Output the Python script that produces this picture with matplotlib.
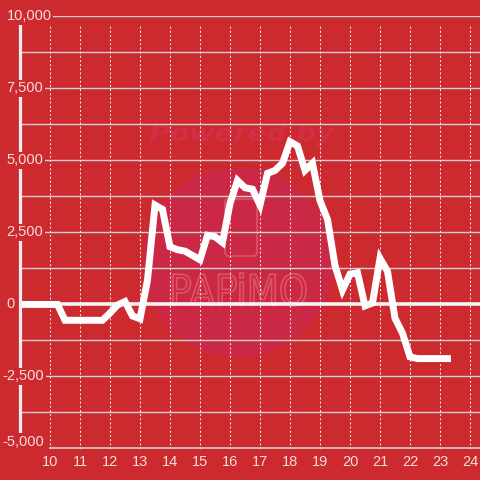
import matplotlib.pyplot as plt
from matplotlib.patches import Circle, FancyBboxPatch, PathPatch
from matplotlib.textpath import TextPath
from matplotlib.font_manager import FontProperties
from matplotlib.transforms import Affine2D, offset_copy

# ----------------------------
# Data
# ----------------------------
hours = [
    9.0, 9.25, 9.5, 9.75, 10.0, 10.25, 10.5, 10.75, 11.0, 11.25, 11.5, 11.75,
    12.0, 12.25, 12.5, 12.75, 13.0, 13.25, 13.5, 13.75, 14.0, 14.25, 14.5, 14.75,
    15.0, 15.25, 15.5, 15.75, 16.0, 16.25, 16.5, 16.75, 17.0, 17.25, 17.5, 17.75,
    18.0, 18.25, 18.5, 18.75, 19.0, 19.25, 19.5, 19.75, 20.0, 20.25, 20.5, 20.75,
    21.0, 21.25, 21.5, 21.75, 22.0, 22.25, 22.5, 22.75, 23.0, 23.25,
]
balance = [
    0, 0, 0, 0, 0, 0, -550, -550, -550, -550, -550, -550,
    -300, -20, 100, -400, -500, 850, 3450, 3300, 2000, 1900, 1850, 1700,
    1550, 2400, 2350, 2150, 3500, 4300, 4050, 4000, 3450, 4550, 4650, 4900,
    5650, 5500, 4650, 4900, 3600, 2950, 1350, 500, 1050, 1100, -50, 50,
    1600, 1150, -480, -1000, -1820, -1880, -1880, -1880, -1880, -1880,
]
x_ticks = [10, 11, 12, 13, 14, 15, 16, 17, 18, 19, 20, 21, 22, 23, 24]
y_ticks = [-5000, -2500, 0, 2500, 5000, 7500, 10000]
y_minor = [-3750, -1250, 1250, 3750, 6250, 8750]

# ----------------------------
# Style
# ----------------------------
BG = "#cc2a2f"
CIRCLE = "#cb2846"
GRID = "#d2d2d2"
TEXT = "#f6dcdc"
plt.rcParams["font.family"] = ["Liberation Sans", "DejaVu Sans"]

W = H = 480
fig = plt.figure(figsize=(4.8, 4.8), dpi=100, facecolor=BG)

# ----------------------------
# Watermark (pixel coords, behind the chart)
# ----------------------------
wm = fig.add_axes([0, 0, 1, 1], zorder=0)
wm.set_xlim(0, W)
wm.set_ylim(H, 0)
wm.axis("off")
wm.add_patch(Circle((238, 262), 95, facecolor=CIRCLE, edgecolor="none"))
wm.add_patch(FancyBboxPatch((225, 199), 32, 57, boxstyle="round,pad=0,rounding_size=4",
                            facecolor="none", edgecolor="#dc4a5c", lw=1.6))


def fitted_text(s, box, weight="normal", style="normal", fill=True, color="#d2304a"):
    fp = FontProperties(family="DejaVu Sans", weight=weight, style=style)
    tp = TextPath((0, 0), s, size=10, prop=fp)
    bb = tp.get_extents()
    x0, y0, x1, y1 = box
    tr = (Affine2D().translate(-bb.x0, -bb.y0)
          .scale((x1 - x0) / bb.width, -(y1 - y0) / bb.height)
          .translate(x0, y1))
    path = tr.transform_path(tp)
    if fill:
        wm.add_patch(PathPatch(path, facecolor=color, edgecolor="none"))
    else:
        wm.add_patch(PathPatch(path, facecolor="none", edgecolor=color, lw=1.2))


fitted_text("Powered by", (150, 123, 335, 146), weight="bold", style="italic", color="#d12f46")
fitted_text("PAPiMO", (173, 273, 306, 306), fill=False, color="#dc5562")

# ----------------------------
# Main chart
# ----------------------------
left, right = 20 / W, 1.0
bottom, top = (H - 448.5) / H, (H - 16.3) / H
ax = fig.add_axes([left, bottom, right - left, top - bottom], zorder=1)
ax.set_facecolor("none")
ax.set_xlim(9, 9 + 460 / 30)
ax.set_ylim(-5000, 10000)

for v in y_ticks[1:] + y_minor:
    if v == 0:
        ax.axhline(v, color="#f4f4f4", lw=2.6, zorder=1.5)
    else:
        ax.axhline(v, color=GRID, lw=1, zorder=1)
ax.axhline(-5000, xmin=30 / 460, color=GRID, lw=1.2, zorder=1)

for h in x_ticks:
    ax.axvline(h, ymax=(10000 - 250 + 5000) / 15000, color="#e6e6e6", lw=0.75,
               linestyle=(0, (2, 2)), zorder=1)

ax.plot(hours, balance, color="white", lw=5, zorder=2, solid_joinstyle="miter",
        solid_capstyle="projecting")

for s in ["top", "right", "bottom"]:
    ax.spines[s].set_visible(False)
ax.spines["left"].set_color("#efefef")
ax.spines["left"].set_linewidth(2.3)

ax.set_xticks(x_ticks)
ax.set_xticklabels([str(h) for h in x_ticks])
ax.tick_params(axis="x", length=0, pad=5, labelsize=10.5, labelcolor=TEXT)
ax.set_yticks([])

for v in y_ticks:
    xpix = 2.5 if v < 0 else 6.5
    tr = ax.get_yaxis_transform()
    if v == y_ticks[0]:
        tr = offset_copy(tr, fig=fig, y=6.5, units="dots")
    ax.text((xpix - 20) / 460, v, f"{v:,}", transform=tr,
            ha="left", va="center", fontsize=10.5, color=TEXT, zorder=3,
            bbox=dict(facecolor=BG, edgecolor="none", pad=1.2))

fig.savefig("out.png", dpi=100, facecolor=BG)
